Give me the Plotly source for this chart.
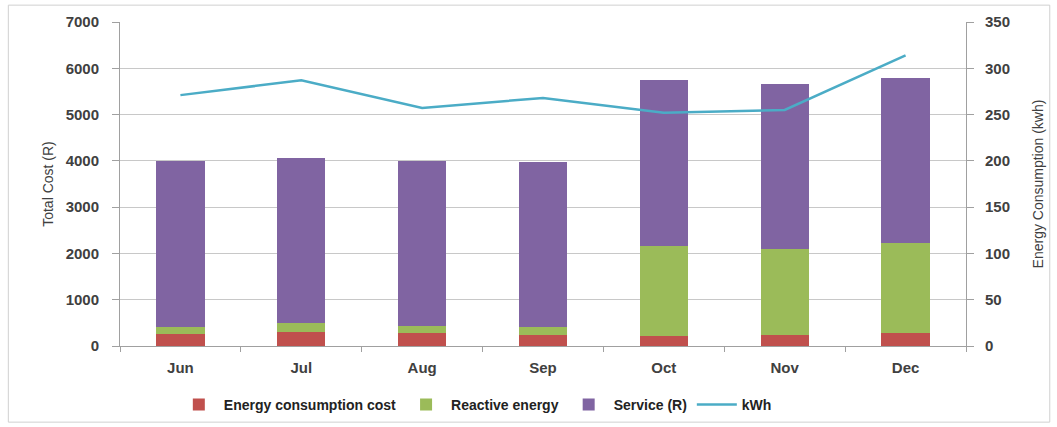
import plotly.graph_objects as go

months = ["Jun", "Jul", "Aug", "Sep", "Oct", "Nov", "Dec"]
energy_cost = [270, 310, 275, 240, 220, 235, 290]
reactive = [150, 180, 155, 175, 1940, 1855, 1930]
service = [3580, 3570, 3570, 3560, 3590, 3560, 3560]
kwh = [271, 287, 257, 268, 252, 255, 314]

left_ticks = [0, 1000, 2000, 3000, 4000, 5000, 6000, 7000]
right_ticks = [0, 50, 100, 150, 200, 250, 300, 350]

FAM = "Liberation Sans, Arial"
font_tick = dict(family=FAM, size=15, color="#404040", weight="bold")
font_title = dict(family=FAM, size=14, color="#404040", weight="normal")

fig = go.Figure()
fig.add_trace(go.Bar(x=months, y=energy_cost, name="Energy consumption cost",
                     marker=dict(color="#C0504D", line=dict(width=0)), width=0.4))
fig.add_trace(go.Bar(x=months, y=reactive, name="Reactive energy",
                     marker=dict(color="#9BBB59", line=dict(width=0)), width=0.4))
fig.add_trace(go.Bar(x=months, y=service, name="Service (R)",
                     marker=dict(color="#8064A2", line=dict(width=0)), width=0.4))
fig.add_trace(go.Scatter(x=months, y=kwh, name="kWh", mode="lines", yaxis="y2",
                         line=dict(color="#4BACC6", width=2.5)))

fig.update_layout(
    width=1057, height=427,
    margin=dict(l=120, r=91, t=22, b=81, autoexpand=False),
    barmode="stack",
    paper_bgcolor="white", plot_bgcolor="white",
    font=dict(family=FAM, size=14, color="#404040"),
    showlegend=True,
    legend=dict(orientation="h", x=0.42, xanchor="center",
                yref="container", y=0.052, yanchor="middle",
                font=dict(family=FAM, size=14, color="#222222", weight="bold"),
                traceorder="normal", itemwidth=40),
    xaxis=dict(type="category", showgrid=False, showline=True, linecolor="#A0A0A0",
               ticks="outside", tickson="boundaries", ticklen=5, tickcolor="#A0A0A0",
               tickfont=font_tick, ticklabelstandoff=8),
    yaxis=dict(range=[0, 7000], tickvals=left_ticks, showgrid=True, gridcolor="#C8C8C8",
               showline=True, linecolor="#A0A0A0", ticks="outside", ticklen=7,
               tickcolor="#A0A0A0", tickfont=font_tick, zeroline=False,
               ticklabelstandoff=10,
               title=dict(text="Total Cost (R)", standoff=8, font=font_title)),
    yaxis2=dict(range=[0, 350], tickvals=right_ticks, overlaying="y", side="right",
                showgrid=False, showline=True, linecolor="#A0A0A0", ticks="outside",
                ticklen=7, tickcolor="#A0A0A0", tickfont=font_tick, zeroline=False,
                ticklabelstandoff=8,
                title=dict(text="Energy Consumption (kwh)", standoff=24, font=font_title)),
    shapes=[dict(type="rect", xref="paper", yref="paper",
                 x0=-0.132, x1=1.099, y0=-0.235, y1=1.052,
                 line=dict(color="#D0D0D0", width=1), fillcolor="rgba(0,0,0,0)", layer="below")],
)

fig.write_html("out.html")
